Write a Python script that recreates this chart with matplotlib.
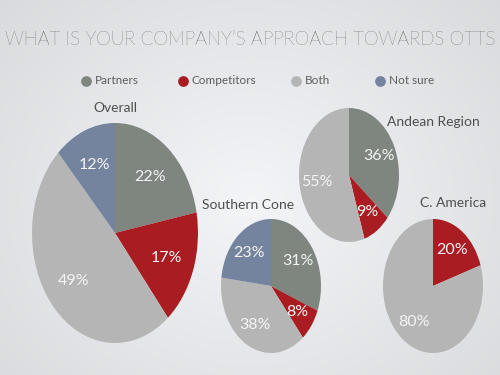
import numpy as np
import matplotlib
matplotlib.use("Agg")
import matplotlib.pyplot as plt

# data
categories = ["Partners", "Competitors", "Both", "Not sure"]
colors = ["#7f8680", "#a81c22", "#b5b5b5", "#74849e"]

overall = [22, 17, 49, 12]
southern_cone = [31, 8, 38, 23]
andean = [36, 9, 55, 0]
c_america = [0, 20, 80, 0]

plt.rcParams['font.family'] = ['Lato', 'DejaVu Sans']

W, H = 500, 375
fig = plt.figure(figsize=(5, 3.75), dpi=100)

# background gradient
bg = fig.add_axes([0, 0, 1, 1])
yy, xx = np.mgrid[0:H, 0:W]
d = np.sqrt(((xx - 250) / 300.0) ** 2 + ((yy - 200) / 260.0) ** 2)
shade = np.clip(0.965 - 0.09 * d, 0, 1)
img = np.dstack([shade - 0.012, shade - 0.006, shade + 0.005])
bg.imshow(np.clip(img, 0, 1), extent=[0, W, H, 0], aspect='auto')
bg.set_xlim(0, W)
bg.set_ylim(H, 0)
bg.axis('off')

# title
bg.text(250, 40, "WHAT IS YOUR COMPANY\u2019S APPROACH TOWARDS OTTS", ha='center', va='center',
        fontsize=13.5, color='#2e2e2e', fontweight='light')

# legend
leg_x = [86, 183, 296, 380]
for x, c, name in zip(leg_x, colors, categories):
    bg.scatter([x], [81], s=45, color=c, zorder=3)
    bg.text(x + 9, 81, name, ha='left', va='center', fontsize=8.5, color='#5e5e5e')


def draw_pie(values, cx, cy, rx, ry, title, tx, ty):
    ax = fig.add_axes([(cx - rx) / W, 1 - (cy + ry) / H, 2 * rx / W, 2 * ry / H])
    vals = [v for v in values if v > 0]
    cols = [c for v, c in zip(values, colors) if v > 0]
    wedges, texts, autotexts = ax.pie(vals, colors=cols, startangle=90, counterclock=False,
                                      autopct=lambda p: "%d%%" % round(p), pctdistance=0.66,
                                      radius=1.0)
    for t in autotexts:
        t.set_color('#f4f4f4')
        t.set_fontsize(11.5)
    ax.set_aspect('auto')
    ax.set_xlim(-1, 1)
    ax.set_ylim(-1, 1)
    ax.axis('off')
    bg.text(tx, ty, title, ha='center', va='center', fontsize=10, color='#4f4f4f')


draw_pie(overall, 115, 233, 83, 110, "Overall", 115, 108)
draw_pie(southern_cone, 271, 286, 50, 67, "Southern Cone", 248, 205)
draw_pie(andean, 349, 175, 50, 67, "Andean Region", 433, 122)
draw_pie(c_america, 433, 286, 50, 67, "C. America", 453, 203)

fig.savefig("out.png", dpi=100)
